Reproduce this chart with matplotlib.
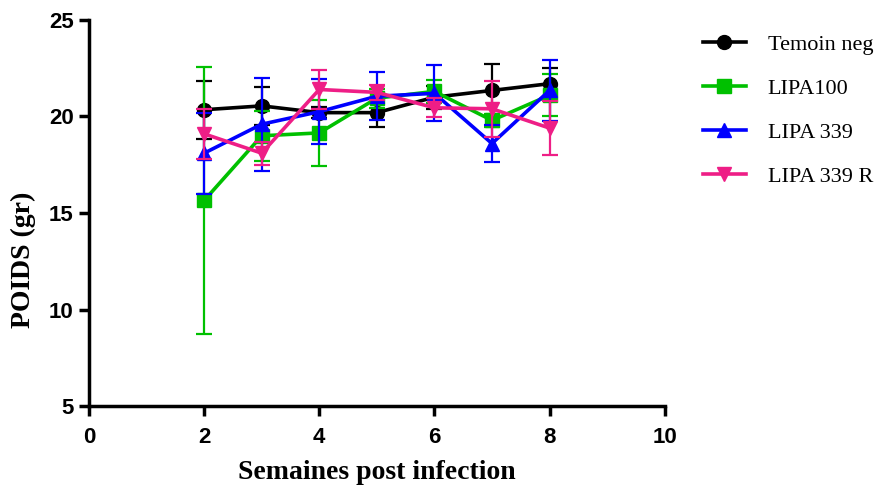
import numpy as np
import matplotlib.pyplot as plt

weeks = [2, 3, 4, 5, 6, 7, 8]

temoin = [20.35, 20.55, 20.2, 20.2, 21.0, 21.35, 21.7]
temoin_err = [1.5, 1.0, 0.3, 0.75, 0.6, 1.35, 0.8]

lipa100 = [15.65, 19.0, 19.15, 20.95, 21.3, 19.8, 21.1]
lipa100_err = [6.9, 1.3, 1.7, 0.5, 0.6, 0.35, 1.1]

lipa339 = [18.1, 19.6, 20.25, 21.05, 21.2, 18.6, 21.35]
lipa339_err = [2.1, 2.4, 1.7, 1.25, 1.45, 0.95, 1.6]

lipa339r = [19.1, 18.1, 21.4, 21.25, 20.45, 20.4, 19.4]
lipa339r_err = [1.3, 0.6, 1.0, 0.4, 0.5, 1.45, 1.4]

labels = ['Temoin neg', 'LIPA100', 'LIPA 339', 'LIPA 339 R']
colors = ['#000000', '#00C000', '#0000FF', '#EE1E86']
markers = ['o', 's', '^', 'v']

fig = plt.figure(figsize=(8.78, 4.9), dpi=100)
ax = fig.add_axes([0.1014, 0.1714, 0.6556, 0.7878])

series = [(temoin, temoin_err), (lipa100, lipa100_err),
          (lipa339, lipa339_err), (lipa339r, lipa339r_err)]
handles = []
for (vals, errs), lab, c, m in zip(series, labels, colors, markers):
    ax.errorbar(weeks, vals, yerr=errs, fmt='none', ecolor=c,
                elinewidth=1.6, capsize=6, capthick=1.6)
    h, = ax.plot(weeks, vals, color=c, lw=2.6, marker=m, ms=10,
                 markeredgecolor=c, label=lab)
    handles.append(h)

ax.set_xlim(0, 10)
ax.set_ylim(5, 25)
ax.set_xticks(np.arange(0, 11, 2))
ax.set_yticks(np.arange(5, 26, 5))
for s in ['top', 'right']:
    ax.spines[s].set_visible(False)
for s in ['left', 'bottom']:
    ax.spines[s].set_linewidth(2.5)
ax.tick_params(width=2.5, length=7, direction='out')
ax.tick_params(axis='x', pad=8)
ax.tick_params(axis='y', pad=4)
for t in ax.get_xticklabels() + ax.get_yticklabels():
    t.set_fontfamily('Liberation Sans')
    t.set_fontweight('bold')
    t.set_fontsize(16)

ax.set_xlabel('Semaines post infection', fontfamily='Liberation Serif',
              fontweight='bold', fontsize=20, labelpad=9)
ax.set_ylabel('POIDS (gr)', fontfamily='Liberation Serif',
              fontweight='bold', fontsize=20)
ax.yaxis.set_label_coords(-0.092, 0.38)

fig.legend(handles=handles, labels=labels, loc='upper left',
           bbox_to_anchor=(0.801, 0.93), frameon=False,
           prop={'family': 'Liberation Serif', 'size': 16},
           handlelength=1.9, labelspacing=1.05, handletextpad=1.0,
           borderaxespad=0, borderpad=0)

fig.savefig('out.png', dpi=100)
